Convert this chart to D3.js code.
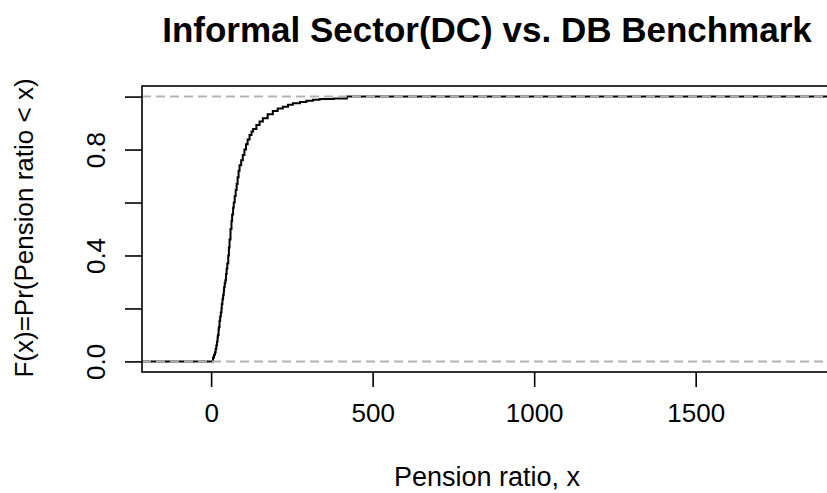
<!DOCTYPE html>
<html>
<head>
<meta charset="utf-8">
<script src="https://cdn.jsdelivr.net/npm/d3@7"></script>
<style>
  html, body { margin: 0; padding: 0; background: #fff; }
  svg { display: block; font-family: "Liberation Sans", Arial, sans-serif; }
</style>
</head>
<body>
<svg id="chart" width="827" height="493"></svg>
<script>
// Empirical CDF of pension ratios: jump locations and cumulative levels
const ratioKnots = [6, 9, 12, 14, 16, 18, 20, 21, 23, 24,
                    26, 28, 30, 32, 33, 35, 37, 39, 40, 42,
                    44, 46, 48, 50, 53, 55, 57, 60, 63, 65,
                    68, 70, 73, 76, 79, 82, 85, 88, 93, 98,
                    103, 108, 113, 119, 125, 130, 140, 150, 160, 175,
                    191, 206, 222, 238, 253, 275, 295, 315, 336, 380,
                    420];
const cdfLevels  = [0.015, 0.025, 0.035, 0.047, 0.06, 0.075, 0.09, 0.10, 0.12, 0.13,
                    0.154, 0.17, 0.185, 0.20, 0.217, 0.235, 0.25, 0.265, 0.28, 0.295,
                    0.306, 0.33, 0.35, 0.37, 0.40, 0.43, 0.46, 0.50, 0.53, 0.555,
                    0.58, 0.60, 0.625, 0.647, 0.67, 0.695, 0.72, 0.741, 0.76, 0.779,
                    0.80, 0.82, 0.838, 0.855, 0.868, 0.878, 0.893, 0.906, 0.918, 0.933,
                    0.946, 0.955, 0.962, 0.969, 0.975, 0.98, 0.984, 0.988, 0.991, 0.993,
                    1.0];

const xTicks = [0, 500, 1000, 1500];
const yTicks = [0, 0.2, 0.4, 0.6, 0.8, 1.0];
const yTickLabels = ["0.0", "", "0.4", "", "0.8", ""];
const refLevels = [0, 1];

const titleText = "Informal Sector(DC) vs. DB Benchmark";
const xTitle = "Pension ratio, x";
const yTitle = "F(x)=Pr(Pension ratio < x)";

const svg = d3.select("#chart");
const box = { left: 142, top: 86, right: 832, bottom: 372 };

const xDomain = [-214, 1922];
const x = d3.scaleLinear().domain(xDomain).range([box.left, box.right]);
const y = d3.scaleLinear().domain([-0.04, 1.04]).range([box.bottom, box.top]);

// step function, extended to the plot edges at levels 0 and 1
const pts = [[xDomain[0], 0]];
ratioKnots.forEach((k, i) => pts.push([k, cdfLevels[i]]));
pts.push([xDomain[1], cdfLevels[cdfLevels.length - 1]]);

const line = d3.line().x(d => x(d[0])).y(d => y(d[1])).curve(d3.curveStepAfter);

svg.append("path")
  .datum(pts)
  .attr("d", line)
  .attr("fill", "none")
  .attr("stroke", "#000")
  .attr("stroke-width", 2);

// reference lines at 0 and 1, drawn over the step function
svg.selectAll("line.ref")
  .data(refLevels)
  .join("line")
  .attr("class", "ref")
  .attr("x1", box.left).attr("x2", box.right)
  .attr("y1", d => y(d)).attr("y2", d => y(d))
  .attr("stroke", "#b3b3b3")
  .attr("stroke-width", 2)
  .attr("stroke-dasharray", "9,5");

// plot frame
svg.append("rect")
  .attr("x", box.left).attr("y", box.top)
  .attr("width", box.right - box.left).attr("height", box.bottom - box.top)
  .attr("fill", "none").attr("stroke", "#000").attr("stroke-width", 1.6);

// x axis
const xAxis = d3.axisBottom(x).tickValues(xTicks).tickSize(15).tickPadding(17)
  .tickFormat(d3.format("d"));
const gx = svg.append("g").attr("transform", `translate(0,${box.bottom})`).call(xAxis);
gx.select(".domain").remove();
gx.selectAll(".tick line").attr("stroke", "#000").attr("stroke-width", 1.6);
gx.selectAll(".tick text").attr("font-size", 26).attr("fill", "#000")
  .attr("font-family", "Liberation Sans, Arial, sans-serif");

// y axis
const yAxis = d3.axisLeft(y).tickValues(yTicks).tickSize(17)
  .tickFormat((d, i) => yTickLabels[i]);
const gy = svg.append("g").attr("transform", `translate(${box.left},0)`).call(yAxis);
gy.select(".domain").remove();
gy.selectAll(".tick line").attr("stroke", "#000").attr("stroke-width", 1.6);
gy.selectAll(".tick text")
  .attr("font-size", 26).attr("fill", "#000")
  .attr("font-family", "Liberation Sans, Arial, sans-serif")
  .attr("text-anchor", "middle")
  .attr("dy", null)
  .attr("x", null)
  .attr("transform", "translate(-37,0) rotate(-90)");

// titles
svg.append("text")
  .attr("x", 487).attr("y", 42)
  .attr("text-anchor", "middle")
  .attr("font-size", 35).attr("font-weight", "bold")
  .text(titleText);

svg.append("text")
  .attr("x", 487).attr("y", 486)
  .attr("text-anchor", "middle")
  .attr("font-size", 27)
  .text(xTitle);

svg.append("text")
  .attr("transform", `translate(33,${(box.top + box.bottom) / 2 - 1}) rotate(-90)`)
  .attr("text-anchor", "middle")
  .attr("font-size", 26)
  .text(yTitle);
</script>
</body>
</html>
